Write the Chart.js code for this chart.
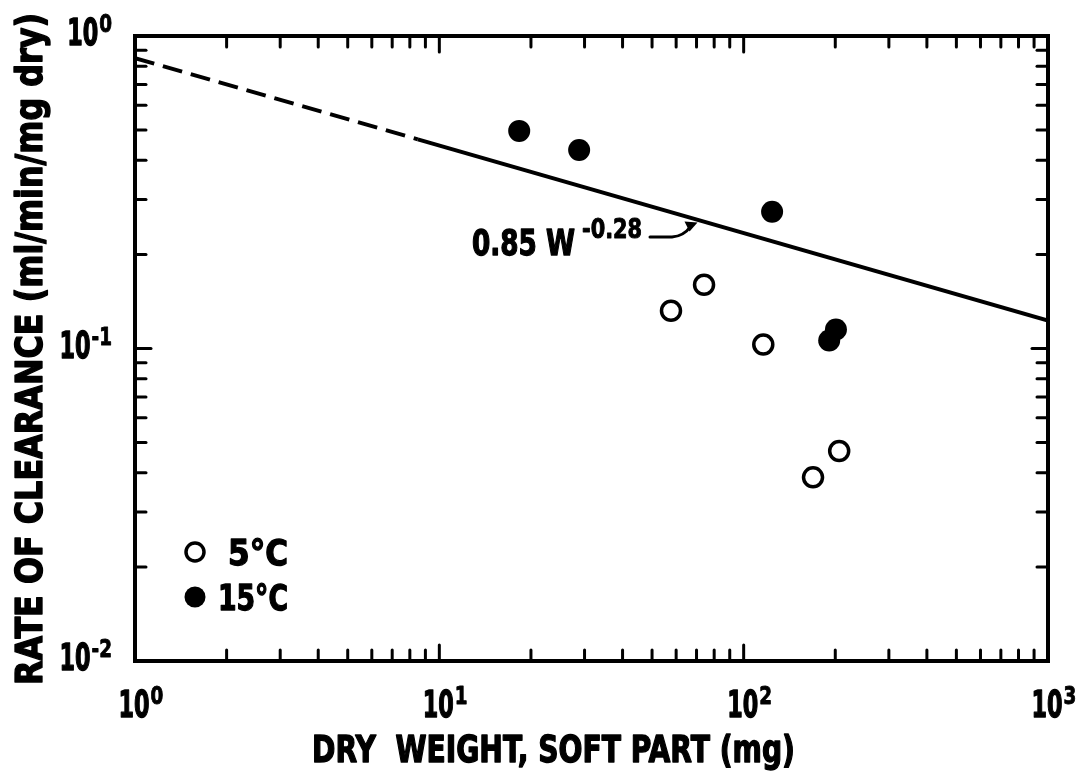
<!DOCTYPE html>
<html>
<head>
<meta charset="utf-8">
<title>Rate of clearance vs dry weight</title>
<script src="https://cdn.jsdelivr.net/npm/chart.js@4/dist/chart.umd.min.js"></script>
<style>
  html, body { margin: 0; padding: 0; background: #fff; }
  #wrap { position: relative; width: 1086px; height: 772px; }
</style>
</head>
<body>
<div id="wrap"><canvas id="chart"></canvas></div>
<script>
// Dry weight of soft parts (mg) and clearance rate (ml/min/mg dry)
const weight5C  = [57.7, 74.1, 116, 169, 206];
const rate5C    = [0.132, 0.160, 0.103, 0.0387, 0.047];
const weight15C = [18.3, 28.8, 124, 191, 201];
const rate15C   = [0.497, 0.432, 0.274, 0.106, 0.115];

// Fitted allometric relation: rate = a * W^b
const fitCoef = 0.85;
const fitExp = -0.28;
const fitDashedRange = [1, 8.5];     // extrapolated part
const fitSolidRange  = [8.5, 1000];  // fitted part

// Axis decades and their exponent labels
const xDecades = [1, 10, 100, 1000];
const xExpLabels = ['0', '1', '2', '3'];
const yDecades = [0.01, 0.1, 1];
const yExpLabels = ['-2', '-1', '0'];
const minorSteps = [2, 3, 4, 5, 6, 7, 8, 9];

const xTitle = 'DRY  WEIGHT, SOFT PART (mg)';
const yTitle = 'RATE OF CLEARANCE (ml/min/mg dry)';
const legendLabels = ['5\u00B0C', '15\u00B0C'];
const fitLabelMain = '0.85 W';
const fitLabelExp = '-0.28';

const FONT = "'Liberation Sans Narrow', 'DejaVu Sans Condensed', 'Arial Narrow', sans-serif";
const INK = '#000';

const fitLine = (range) => range.map(w => ({ x: w, y: fitCoef * Math.pow(w, fitExp) }));
const toPoints = (xs, ys) => xs.map((x, i) => ({ x, y: ys[i] }));

// Heavy lettering squeezed/stretched horizontally to a given width
function fitText(ctx, text, x, y, width, size, rotate) {
  ctx.save();
  ctx.font = 'bold ' + size + 'px ' + FONT;
  ctx.textAlign = 'left';
  ctx.textBaseline = 'alphabetic';
  const w = ctx.measureText(text).width;
  ctx.translate(x, y);
  if (rotate) ctx.rotate(rotate);
  ctx.scale(width / w, 1);
  ctx.lineWidth = size / 28;
  ctx.lineJoin = 'round';
  ctx.fillText(text, 0, 0);
  ctx.strokeText(text, 0, 0);
  ctx.restore();
}

function drawPower(ctx, exp, x, baseline, align) {
  ctx.save();
  const baseW = 31;
  ctx.font = 'bold 24px ' + FONT;
  const expW = ctx.measureText(exp).width * 0.85;
  let left;
  if (align === 'right') left = x - baseW - expW - 1;
  else left = x - baseW / 2 - 1;
  fitText(ctx, '10', left, baseline, baseW, 37);
  fitText(ctx, exp, left + baseW + 1, baseline - 13, expW, 24);
  ctx.restore();
}

const framePlugin = {
  id: 'frame',
  afterDatasetsDraw(chart) {
    const { ctx, chartArea: a, scales } = chart;
    const xs = scales.x, ys = scales.y;
    ctx.save();
    ctx.fillStyle = INK;
    ctx.strokeStyle = INK;

    // Frame
    ctx.lineWidth = 4;
    ctx.strokeRect(a.left, a.top, a.right - a.left, a.bottom - a.top);

    // Inward ticks on all four sides
    ctx.lineWidth = 3;
    ctx.lineCap = 'round';
    const tick = (x1, y1, x2, y2) => { ctx.beginPath(); ctx.moveTo(x1, y1); ctx.lineTo(x2, y2); ctx.stroke(); };
    xDecades.forEach((d, i) => {
      const steps = i < xDecades.length - 1 ? [1, ...minorSteps] : [1];
      steps.forEach(m => {
        const v = d * m;
        const px = xs.getPixelForValue(v);
        const len = m === 1 ? 16 : 11;
        if (px > a.left + 2 && px < a.right - 2) {
          tick(px, a.bottom, px, a.bottom - len);
          tick(px, a.top, px, a.top + len);
        }
      });
    });
    yDecades.forEach((d, i) => {
      const steps = i < yDecades.length - 1 ? [1, ...minorSteps] : [1];
      steps.forEach(m => {
        const v = d * m;
        const py = ys.getPixelForValue(v);
        const len = m === 1 ? 16 : 11;
        if (py > a.top + 2 && py < a.bottom - 2) {
          tick(a.left, py, a.left + len, py);
          tick(a.right, py, a.right - len, py);
        }
      });
    });

    // Tick labels
    xDecades.forEach((d, i) => drawPower(ctx, xExpLabels[i], xs.getPixelForValue(d), 717, 'center'));
    yDecades.forEach((d, i) => drawPower(ctx, yExpLabels[i], 112, ys.getPixelForValue(d) + 9, 'right'));

    // Axis titles
    fitText(ctx, xTitle, 312, 762, 483, 38);
    fitText(ctx, yTitle, 42, 685, 672, 38, -Math.PI / 2);

    // Legend
    const lx = 195;
    ctx.lineWidth = 3.5;
    ctx.beginPath(); ctx.arc(lx, 552, 9, 0, Math.PI * 2);
    ctx.fillStyle = '#fff'; ctx.fill(); ctx.stroke();
    ctx.fillStyle = INK;
    ctx.beginPath(); ctx.arc(lx, 597, 10.5, 0, Math.PI * 2); ctx.fill();
    fitText(ctx, legendLabels[0], 228, 565, 60, 36);
    fitText(ctx, legendLabels[1], 218, 610, 70, 36);

    // Fit equation label with leader to the line
    fitText(ctx, fitLabelMain, 472, 255, 103, 36);
    fitText(ctx, fitLabelExp, 582, 238, 60, 26);
    const tipW = 70;
    const tx = xs.getPixelForValue(tipW);
    const ty = ys.getPixelForValue(fitCoef * Math.pow(tipW, fitExp)) + 3;
    ctx.lineWidth = 3;
    ctx.beginPath();
    ctx.moveTo(650, 237);
    ctx.lineTo(672, 237);
    ctx.quadraticCurveTo(684, 236, tx - 6, ty + 4);
    ctx.stroke();
    ctx.beginPath();
    ctx.moveTo(tx + 1, ty);
    ctx.lineTo(tx - 12, ty - 1);
    ctx.lineTo(tx - 7, ty + 9);
    ctx.closePath();
    ctx.fill();

    ctx.restore();
  }
};

new Chart(document.getElementById('chart'), {
  type: 'scatter',
  data: {
    datasets: [
      {
        type: 'line',
        label: 'fit (extrapolated)',
        data: fitLine(fitDashedRange),
        borderColor: INK,
        borderWidth: 4,
        borderDash: [20, 9],
        pointRadius: 0,
        fill: false
      },
      {
        type: 'line',
        label: 'fit',
        data: fitLine(fitSolidRange),
        borderColor: INK,
        borderWidth: 4,
        pointRadius: 0,
        fill: false
      },
      {
        label: legendLabels[0],
        data: toPoints(weight5C, rate5C),
        pointStyle: 'circle',
        pointRadius: 9.5,
        pointBorderWidth: 3.5,
        pointBackgroundColor: '#fff',
        pointBorderColor: INK
      },
      {
        label: legendLabels[1],
        data: toPoints(weight15C, rate15C),
        pointStyle: 'circle',
        pointRadius: 11,
        pointBorderWidth: 0,
        pointBackgroundColor: INK,
        pointBorderColor: INK
      }
    ]
  },
  options: {
    responsive: true,
    maintainAspectRatio: false,
    animation: false,
    layout: { padding: { left: 135, right: 38, top: 36, bottom: 111 } },
    plugins: { legend: { display: false }, tooltip: { enabled: false } },
    scales: {
      x: { type: 'logarithmic', min: 1, max: 1000, display: false },
      y: { type: 'logarithmic', min: 0.01, max: 1, display: false }
    }
  },
  plugins: [framePlugin]
});
</script>
</body>
</html>
